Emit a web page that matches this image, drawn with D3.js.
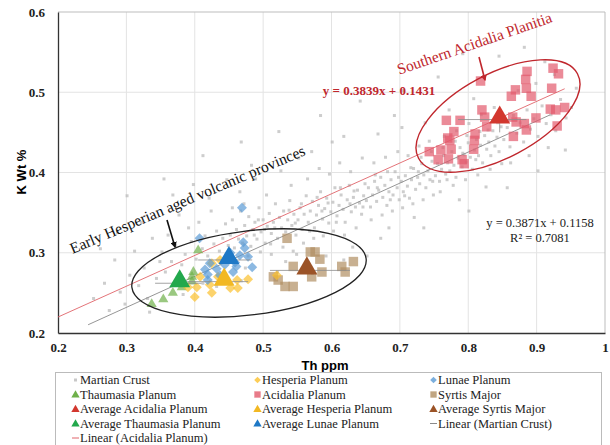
<!DOCTYPE html>
<html>
<head>
<meta charset="utf-8">
<script src="https://cdn.jsdelivr.net/npm/d3@7"></script>
<style>
  body { margin: 0; background: #fff; }
  svg text { font-family: "Liberation Serif", "Times New Roman", Times, "DejaVu Serif", "Noto Serif", serif; }
  svg text.sans { font-family: "Liberation Sans", Arial, "DejaVu Sans", sans-serif; }
</style>
</head>
<body>
<script>
//constants
const w = 610;
const h = 445;

//data
const martianCrust = [
  [0.252,0.243],[0.268,0.262],[0.275,0.228],[0.283,0.291],[0.291,0.251],[0.298,0.236],[0.305,0.272],[0.312,0.302],[0.318,0.259],[0.326,0.281],
  [0.331,0.243],[0.338,0.318],[0.344,0.268],[0.349,0.289],[0.262,0.305],[0.287,0.325],[0.322,0.338],[0.334,0.226],
  [0.352,0.301],[0.357,0.276],[0.361,0.322],[0.366,0.289],[0.372,0.309],[0.377,0.347],[0.381,0.285],[0.386,0.298],[0.391,0.331],[0.395,0.314],
  [0.402,0.292],[0.406,0.338],[0.411,0.305],[0.415,0.321],[0.419,0.296],[0.424,0.352],[0.428,0.311],[0.432,0.327],[0.436,0.302],[0.441,0.318],
  [0.445,0.336],[0.449,0.309],[0.368,0.372],[0.398,0.385],[0.421,0.368],[0.447,0.391],[0.383,0.248],[0.412,0.262],
  [0.452,0.322],[0.455,0.341],[0.458,0.306],[0.461,0.329],[0.464,0.317],[0.467,0.352],[0.470,0.312],[0.473,0.334],[0.476,0.321],[0.479,0.345],
  [0.482,0.308],[0.485,0.329],[0.488,0.338],[0.491,0.317],[0.494,0.356],[0.497,0.326],[0.500,0.341],[0.503,0.312],[0.506,0.333],[0.509,0.349],
  [0.512,0.324],[0.515,0.338],[0.518,0.361],[0.521,0.318],[0.524,0.344],[0.527,0.331],[0.530,0.352],[0.533,0.326],[0.536,0.341],[0.539,0.365],
  [0.542,0.334],[0.545,0.348],[0.548,0.322],[0.459,0.288],[0.478,0.296],[0.496,0.301],[0.512,0.298],[0.529,0.307],[0.544,0.302],[0.466,0.376],
  [0.489,0.392],[0.505,0.372],[0.526,0.402],[0.541,0.384],[0.474,0.281],[0.533,0.289],
  [0.551,0.341],[0.554,0.356],[0.557,0.329],[0.560,0.348],[0.563,0.371],[0.566,0.338],[0.569,0.352],[0.572,0.364],[0.575,0.331],[0.578,0.347],
  [0.581,0.359],[0.584,0.376],[0.587,0.342],[0.590,0.355],[0.593,0.368],[0.596,0.337],[0.599,0.351],[0.602,0.363],[0.605,0.381],[0.608,0.346],
  [0.611,0.359],[0.614,0.372],[0.617,0.354],[0.620,0.338],[0.623,0.366],[0.626,0.384],[0.629,0.351],[0.632,0.369],[0.635,0.357],[0.638,0.378],
  [0.641,0.362],[0.644,0.348],[0.647,0.371],[0.559,0.312],[0.574,0.318],[0.588,0.321],[0.603,0.327],[0.619,0.322],[0.636,0.331],[0.565,0.392],
  [0.582,0.405],[0.597,0.398],[0.612,0.412],[0.628,0.401],[0.645,0.418],[0.571,0.426],[0.601,0.438],[0.631,0.307],[0.549,0.298],[0.592,0.296],
  [0.651,0.365],[0.654,0.381],[0.657,0.357],[0.660,0.372],[0.663,0.389],[0.666,0.364],[0.669,0.378],[0.672,0.394],[0.675,0.369],[0.678,0.384],
  [0.681,0.359],[0.684,0.376],[0.687,0.391],[0.690,0.372],[0.693,0.401],[0.696,0.381],[0.699,0.366],[0.702,0.389],[0.705,0.376],[0.708,0.396],
  [0.711,0.383],[0.714,0.368],[0.717,0.391],[0.720,0.405],[0.723,0.379],[0.726,0.394],[0.729,0.386],[0.732,0.411],[0.735,0.397],[0.738,0.381],
  [0.741,0.402],[0.744,0.391],[0.747,0.414],[0.658,0.341],[0.674,0.347],[0.689,0.352],[0.704,0.356],[0.719,0.361],[0.734,0.366],[0.749,0.372],
  [0.662,0.412],[0.679,0.419],[0.697,0.426],[0.712,0.421],[0.728,0.433],[0.743,0.439],[0.668,0.448],[0.703,0.456],[0.737,0.462],[0.684,0.331],
  [0.721,0.344],
  [0.752,0.396],[0.755,0.411],[0.758,0.389],[0.761,0.404],[0.764,0.421],[0.767,0.398],[0.770,0.412],[0.773,0.402],[0.776,0.426],[0.779,0.409],
  [0.782,0.394],[0.785,0.418],[0.788,0.431],[0.791,0.407],[0.794,0.422],[0.797,0.413],[0.800,0.437],[0.803,0.419],[0.806,0.404],[0.809,0.428],
  [0.812,0.441],[0.815,0.421],[0.818,0.434],[0.821,0.412],[0.824,0.446],[0.827,0.429],[0.830,0.438],[0.833,0.421],[0.836,0.452],[0.839,0.433],
  [0.842,0.444],[0.845,0.426],[0.848,0.457],[0.759,0.376],[0.778,0.384],[0.796,0.391],[0.814,0.397],[0.832,0.404],[0.849,0.411],[0.765,0.445],
  [0.783,0.452],[0.801,0.461],[0.819,0.472],[0.838,0.481],[0.772,0.478],[0.808,0.492],[0.787,0.366],[0.826,0.382],
  [0.852,0.441],[0.857,0.456],[0.861,0.432],[0.866,0.471],[0.871,0.449],[0.876,0.462],[0.881,0.438],[0.886,0.478],[0.891,0.454],[0.896,0.467],
  [0.902,0.445],[0.908,0.483],[0.914,0.461],[0.921,0.472],[0.928,0.452],[0.935,0.491],[0.943,0.468],[0.951,0.481],[0.862,0.412],[0.889,0.421],
  [0.917,0.431],[0.873,0.502],[0.899,0.511],[0.926,0.522],[0.958,0.505],[0.845,0.545],[0.882,0.556],[0.832,0.562],[0.912,0.538],
  [0.301,0.371],[0.355,0.392],[0.412,0.421],[0.468,0.438],[0.523,0.451],[0.584,0.471],[0.642,0.489],[0.705,0.502],[0.756,0.519],[0.792,0.548],
  [0.483,0.409],[0.552,0.418],[0.618,0.445],[0.692,0.471],
  [0.432,0.258],[0.521,0.276],[0.618,0.291],[0.672,0.318],[0.735,0.331],[0.801,0.352],[0.857,0.381],[0.902,0.402],[0.942,0.428],[0.468,0.265],
  [0.572,0.274],[0.652,0.296],
  [0.487,0.322],[0.502,0.329],[0.517,0.331],[0.538,0.353],[0.556,0.361],[0.579,0.369],[0.595,0.362],[0.613,0.381],[0.633,0.377],[0.649,0.386],
  [0.664,0.397],[0.682,0.401],[0.698,0.394],[0.716,0.406],[0.731,0.419],[0.746,0.426],[0.763,0.431],[0.781,0.439],[0.798,0.446],[0.817,0.451],
  [0.493,0.341],[0.511,0.311],[0.547,0.337],[0.568,0.327],[0.586,0.352],[0.607,0.338],[0.627,0.361],[0.646,0.357],[0.667,0.381],[0.686,0.366],
  [0.707,0.371],[0.727,0.401],[0.748,0.389],[0.769,0.391],[0.792,0.424],[0.811,0.416],[0.829,0.453],[0.843,0.462],[0.455,0.356],[0.472,0.361]
];

const hesperia = [
  [0.425,0.287],[0.437,0.291],[0.403,0.257],[0.400,0.245],[0.425,0.250],[0.463,0.256],[0.478,0.267],[0.452,0.256],
  [0.422,0.260],[0.408,0.270],[0.434,0.270],[0.390,0.257],[0.520,0.272],[0.462,0.266]
];
const lunae = [
  [0.469,0.356],[0.407,0.318],[0.471,0.313],[0.473,0.306],[0.452,0.300],[0.466,0.297],[0.478,0.295],[0.459,0.288],
  [0.484,0.282],[0.422,0.287],[0.432,0.280],[0.415,0.279],[0.419,0.273],[0.437,0.272],[0.456,0.276],[0.461,0.283],
  [0.419,0.266],[0.444,0.285]
];
const thaumasia = [
  [0.405,0.303],[0.398,0.276],[0.396,0.270],[0.396,0.264],[0.368,0.250],[0.354,0.242],[0.337,0.236],[0.381,0.257]
];
const acidalia = [
  [0.818,0.514],[0.886,0.526],[0.884,0.516],[0.885,0.505],[0.892,0.495],[0.924,0.530],[0.932,0.523],[0.922,0.505],
  [0.863,0.495],[0.869,0.503],[0.920,0.479],[0.928,0.478],[0.941,0.481],[0.930,0.458],[0.899,0.468],[0.882,0.461],
  [0.885,0.453],[0.870,0.463],[0.866,0.445],[0.820,0.478],[0.824,0.469],[0.827,0.457],[0.810,0.448],[0.809,0.440],
  [0.788,0.465],[0.768,0.465],[0.779,0.451],[0.773,0.440],[0.775,0.429],[0.760,0.428],[0.743,0.426],[0.756,0.416],
  [0.771,0.417],[0.794,0.411],[0.808,0.429],[0.865,0.469],[0.770,0.443],[0.791,0.416]
];
const syrtis = [
  [0.535,0.318],[0.569,0.301],[0.576,0.301],[0.583,0.292],[0.544,0.283],[0.515,0.270],[0.522,0.266],[0.532,0.258],
  [0.544,0.258],[0.586,0.276],[0.571,0.270],[0.615,0.283],[0.620,0.276],[0.632,0.289]
];

// averages: name, th, k, th range, k range
const averages = [
  {name: "Average Acidalia Planum", x: 0.846, y: 0.466, xr: [0.785, 0.885], yr: [0.450, 0.479], color: "#d2372e"},
  {name: "Average Hesperia Planum", x: 0.443, y: 0.264, xr: [0.389, 0.478], yr: null, color: "#f2b823"},
  {name: "Average Syrtis Major", x: 0.564, y: 0.278, xr: [0.510, 0.627], yr: null, color: "#9b5327"},
  {name: "Average Thaumasia Planum", x: 0.378, y: 0.262, xr: [0.342, 0.410], yr: null, color: "#22a84c"},
  {name: "Average Lunae Planum", x: 0.450, y: 0.291, xr: [0.405, 0.484], yr: null, color: "#1e78c6"}
];

// trend lines: slope, intercept, x extent
const crustFit = {m: 0.3871, b: 0.1158, x0: 0.244, x1: 0.92};
const acidaliaFit = {m: 0.3839, b: 0.1431, x0: 0.2, x1: 0.941};

const xTicks = [0.2, 0.3, 0.4, 0.5, 0.6, 0.7, 0.8, 0.9, 1];
const yTicks = [0.2, 0.3, 0.4, 0.5, 0.6];

//scales
const xScale = d3.scaleLinear().domain([0.2, 1]).range([58, 605]);
const yScale = d3.scaleLinear().domain([0.2, 0.6]).range([333, 12]);

const svg = d3.select("body").append("svg")
  .attr("width", w).attr("height", h);

//grid
svg.append("g").selectAll("line").data(xTicks.slice(1, -1)).enter().append("line")
  .attr("x1", d => xScale(d)).attr("x2", d => xScale(d))
  .attr("y1", yScale(0.6)).attr("y2", yScale(0.2))
  .attr("stroke", "#e3e3e3");
svg.append("g").selectAll("line").data(yTicks.slice(1, -1)).enter().append("line")
  .attr("x1", xScale(0.2)).attr("x2", xScale(1))
  .attr("y1", d => yScale(d)).attr("y2", d => yScale(d))
  .attr("stroke", "#e3e3e3");

//frame top/right
svg.append("path")
  .attr("d", `M${xScale(0.2)},${yScale(0.6)}H${xScale(1)}V${yScale(0.2)}`)
  .attr("fill", "none").attr("stroke", "#bdbdbd");

//axes
const xAxis = d3.axisBottom(xScale).tickValues(xTicks).tickSize(0).tickPadding(10)
  .tickFormat(d => d === 1 ? "1" : d3.format(".1f")(d));
const yAxis = d3.axisLeft(yScale).tickValues(yTicks).tickSize(0).tickPadding(13)
  .tickFormat(d3.format(".1f"));

const gx = svg.append("g").attr("transform", `translate(0,${yScale(0.2)})`).call(xAxis);
const gy = svg.append("g").attr("transform", `translate(${xScale(0.2)},0)`).call(yAxis);
[gx, gy].forEach(g => {
  g.attr("font-family", null);
  g.select(".domain").attr("stroke", "#333").attr("stroke-width", 1.3);
  g.selectAll("text")
    .attr("font-weight", "bold")
    .attr("font-size", 13)
    .attr("fill", "#222");
});

svg.append("text").attr("class", "sans")
  .attr("x", 325).attr("y", 370)
  .attr("text-anchor", "middle")
  .attr("font-weight", "bold").attr("font-size", 13)
  .text("Th ppm");
svg.append("text").attr("class", "sans")
  .attr("transform", "translate(26,172) rotate(-90)")
  .attr("text-anchor", "middle")
  .attr("font-weight", "bold").attr("font-size", 13)
  .text("K Wt %");

//martian crust points
svg.append("g").selectAll("rect").data(martianCrust).enter().append("rect")
  .attr("x", d => xScale(d[0]) - 1.5).attr("y", d => yScale(d[1]) - 1.5)
  .attr("width", 3).attr("height", 3)
  .attr("fill", "#b8b8b8").attr("opacity", 0.7);

//trend lines
function fitLine(f, color) {
  svg.append("line")
    .attr("x1", xScale(f.x0)).attr("y1", yScale(f.m * f.x0 + f.b))
    .attr("x2", xScale(f.x1)).attr("y2", yScale(f.m * f.x1 + f.b))
    .attr("stroke", color).attr("stroke-width", 0.9);
}
fitLine(crustFit, "#8a8a8a");
fitLine(acidaliaFit, "#e0646a");

//series
const sym = (type, size) => d3.symbol().type(type).size(size)();
function drawSeries(data, type, size, color, rot) {
  svg.append("g").selectAll("path").data(data).enter().append("path")
    .attr("d", sym(type, size))
    .attr("transform", d => `translate(${xScale(d[0])},${yScale(d[1])}) rotate(${rot || 0})`)
    .attr("fill", color).attr("fill-opacity", 0.7);
}
drawSeries(syrtis, d3.symbolSquare, 90, "#b08f62");
drawSeries(acidalia, d3.symbolSquare, 90, "#e25a6c");
drawSeries(thaumasia, d3.symbolTriangle, 45, "#6fb04a");
drawSeries(hesperia, d3.symbolSquare, 50, "#fbc02d", 45);
drawSeries(lunae, d3.symbolSquare, 50, "#5b9bd5", 45);

//averages with range bars
const avgG = svg.append("g");
averages.forEach(a => {
  avgG.append("line")
    .attr("x1", xScale(a.xr[0])).attr("x2", xScale(a.xr[1]))
    .attr("y1", yScale(a.y)).attr("y2", yScale(a.y))
    .attr("stroke", "#8c8c8c").attr("stroke-width", 0.8);
  if (a.yr) {
    avgG.append("line")
      .attr("x1", xScale(a.x)).attr("x2", xScale(a.x))
      .attr("y1", yScale(a.yr[0])).attr("y2", yScale(a.yr[1]))
      .attr("stroke", "#8c8c8c").attr("stroke-width", 0.8);
  }
});
avgG.selectAll("path").data(averages).enter().append("path")
  .attr("d", sym(d3.symbolTriangle, 190))
  .attr("transform", d => `translate(${xScale(d.x)},${yScale(d.y) - 2})`)
  .attr("fill", d => d.color);

//annotations
const red = "#c0272d";
svg.append("defs").html(
  `<marker id="ahR" viewBox="0 0 10 10" refX="8" refY="5" markerWidth="4" markerHeight="4" orient="auto"><path d="M0,0L10,5L0,10z" fill="${red}"/></marker>
   <marker id="ahK" viewBox="0 0 10 10" refX="8" refY="5" markerWidth="4" markerHeight="4" orient="auto"><path d="M0,0L10,5L0,10z" fill="#111"/></marker>`);

svg.append("ellipse")
  .attr("transform", "translate(498,116) rotate(-28)")
  .attr("rx", 90).attr("ry", 42)
  .attr("fill", "none").attr("stroke", red).attr("stroke-width", 1.4);
svg.append("text")
  .attr("transform", "translate(475,45) rotate(-19)")
  .attr("text-anchor", "middle").attr("dominant-baseline", "middle")
  .attr("font-size", 15.5).attr("fill", red)
  .text("Southern Acidalia Planitia");
svg.append("line")
  .attr("x1", 479).attr("y1", 57).attr("x2", 485).attr("y2", 80)
  .attr("stroke", red).attr("stroke-width", 1.6).attr("marker-end", "url(#ahR)");

svg.append("ellipse")
  .attr("transform", "translate(249,273) rotate(-7)")
  .attr("rx", 118).attr("ry", 42)
  .attr("fill", "none").attr("stroke", "#222").attr("stroke-width", 1.3);
svg.append("text")
  .attr("transform", "translate(188,201) rotate(-23)")
  .attr("text-anchor", "middle").attr("dominant-baseline", "middle")
  .attr("font-size", 15.5).attr("fill", "#111")
  .text("Early Hesperian aged volcanic provinces");
svg.append("line")
  .attr("x1", 167).attr("y1", 220).attr("x2", 175).attr("y2", 247)
  .attr("stroke", "#111").attr("stroke-width", 1.6).attr("marker-end", "url(#ahK)");

svg.append("text")
  .attr("x", 379).attr("y", 95).attr("text-anchor", "middle")
  .attr("font-size", 13).attr("font-weight", "bold").attr("fill", red)
  .text("y = 0.3839x + 0.1431");
svg.append("text")
  .attr("x", 540).attr("y", 227).attr("text-anchor", "middle")
  .attr("font-size", 12.5).attr("fill", "#222")
  .text("y = 0.3871x + 0.1158");
svg.append("text")
  .attr("x", 540).attr("y", 242).attr("text-anchor", "middle")
  .attr("font-size", 12.5).attr("fill", "#222")
  .text("R² = 0.7081");

//legend
const legendItems = [
  {label: "Martian Crust", kind: "dot", color: "#c8c8c8"},
  {label: "Hesperia Planum", kind: "diamond", color: "#fbc02d"},
  {label: "Lunae Planum", kind: "diamond", color: "#5b9bd5"},
  {label: "Thaumasia Planum", kind: "tri", color: "#6fb04a"},
  {label: "Acidalia Planum", kind: "square", color: "#e25a6c"},
  {label: "Syrtis Major", kind: "square", color: "#b08f62"},
  {label: "Average Acidalia Planum", kind: "tri", color: "#d2372e"},
  {label: "Average Hesperia Planum", kind: "tri", color: "#f2b823"},
  {label: "Average Syrtis Major", kind: "tri", color: "#9b5327"},
  {label: "Average Thaumasia Planum", kind: "tri", color: "#22a84c"},
  {label: "Average Lunae Planum", kind: "tri", color: "#1e78c6"},
  {label: "Linear (Martian Crust)", kind: "line", color: "#8a8a8a"},
  {label: "Linear (Acidalia Planum)", kind: "line", color: "#e0646a"}
];
const colX = [80, 262, 438];

svg.append("rect")
  .attr("x", 55.5).attr("y", 372.5).attr("width", 546).attr("height", 80)
  .attr("fill", "none").attr("stroke", "#bbb");

const lg = svg.append("g").selectAll("g").data(legendItems).enter().append("g")
  .attr("transform", (d, i) => `translate(${colX[i % 3]},${380 + Math.floor(i / 3) * 14.5})`);
lg.each(function(d) {
  const g = d3.select(this);
  if (d.kind === "dot") {
    g.append("rect").attr("x", -6).attr("y", -1.5).attr("width", 3).attr("height", 3).attr("fill", d.color);
  } else if (d.kind === "diamond") {
    g.append("path").attr("d", sym(d3.symbolSquare, 22)).attr("transform", "translate(-4.5,0) rotate(45)").attr("fill", d.color).attr("fill-opacity", 0.8);
  } else if (d.kind === "square") {
    g.append("path").attr("d", sym(d3.symbolSquare, 40)).attr("transform", "translate(-4.5,0)").attr("fill", d.color).attr("fill-opacity", 0.8);
  } else if (d.kind === "tri") {
    g.append("path").attr("d", sym(d3.symbolTriangle, 30)).attr("transform", "translate(-4.5,0.5)").attr("fill", d.color);
  } else {
    g.append("line").attr("x1", -8).attr("x2", -1).attr("y1", 0).attr("y2", 0).attr("stroke", d.color);
  }
  g.append("text").attr("x", 0).attr("y", 4.2)
    .attr("font-size", 12.5).attr("fill", "#222")
    .text(d.label);
});
</script>
</body>
</html>
